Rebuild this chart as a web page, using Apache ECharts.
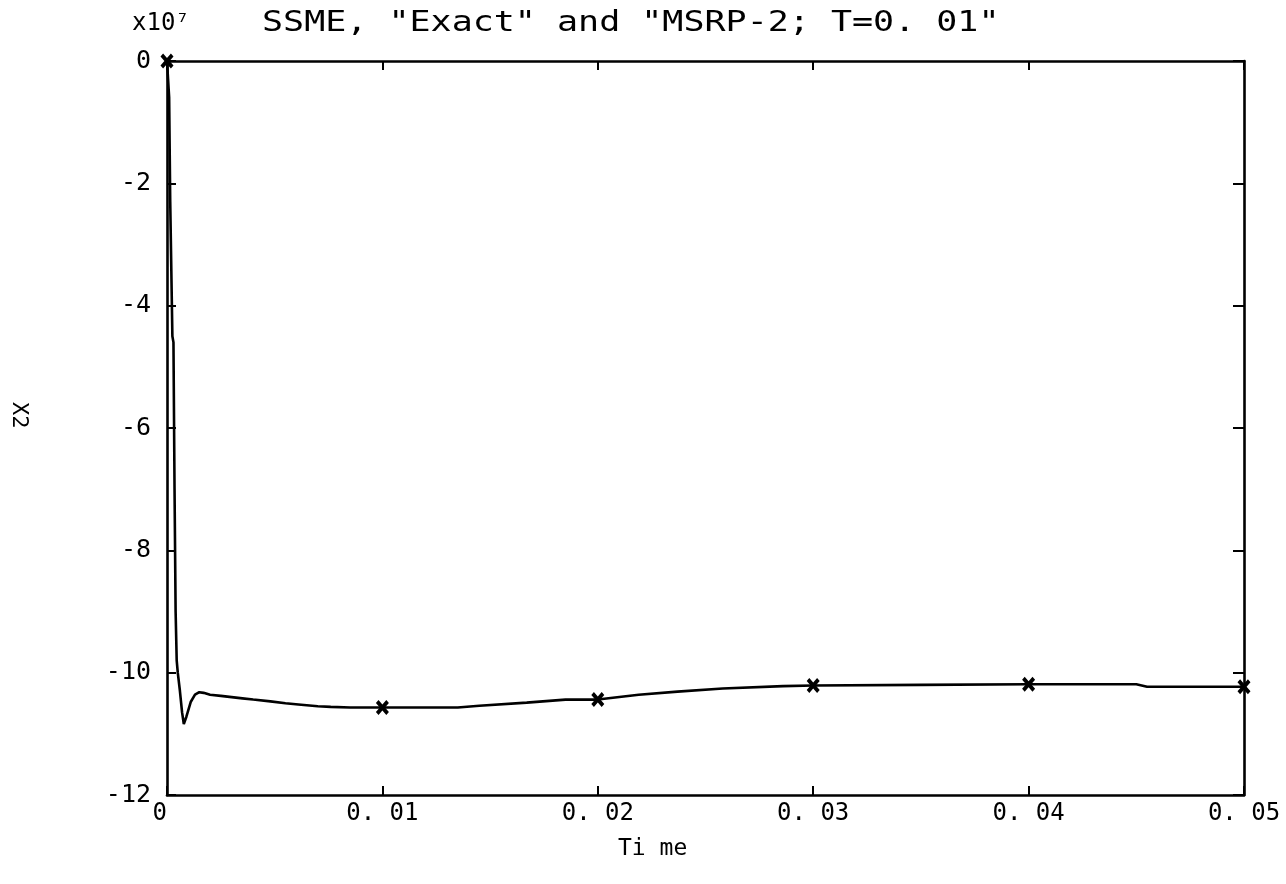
<!DOCTYPE html>
<html>
<head>
<meta charset="utf-8">
<script src="https://cdn.jsdelivr.net/npm/echarts@6/dist/echarts.min.js"></script>
<style>
html,body{margin:0;padding:0;background:#fff;}
#chart{width:1286px;height:884px;}
</style>
</head>
<body>
<div id="chart"></div>
<script>
// "Exact" response (values in units of 1e7)
const exactTime = [0, 0.00005, 0.0001, 0.00015, 0.0002, 0.00025, 0.0003, 0.00035, 0.0004, 0.00045, 0.0005, 0.0006, 0.0007, 0.00078, 0.0009, 0.0011, 0.0013, 0.0015, 0.0017, 0.002, 0.0025, 0.003, 0.0035, 0.004, 0.0048, 0.0055, 0.0061, 0.007, 0.0076, 0.0085, 0.01, 0.0135, 0.0145, 0.0167, 0.0185, 0.02, 0.0219, 0.0237, 0.0258, 0.0286, 0.03, 0.035, 0.04, 0.045, 0.0455, 0.05];
const exactX2 = [0, -0.3, -0.6, -2.3, -2.3, -4.5, -4.6, -7.0, -9.0, -9.8, -10.0, -10.3, -10.65, -10.84, -10.72, -10.48, -10.36, -10.32, -10.33, -10.36, -10.38, -10.40, -10.42, -10.44, -10.47, -10.50, -10.52, -10.55, -10.56, -10.57, -10.57, -10.57, -10.54, -10.49, -10.44, -10.44, -10.36, -10.31, -10.26, -10.22, -10.21, -10.20, -10.19, -10.19, -10.23, -10.23];
// "MSRP-2; T=0.01" sample points
const msrpTime = [0, 0.01, 0.02, 0.03, 0.04, 0.05];
const msrpX2 = [0, -10.57, -10.44, -10.21, -10.19, -10.23];
// tick labels
const xTickLabels = ['0', '0. 01', '0. 02', '0. 03', '0. 04', '0. 05'];
const yTickLabels = ['-12', '-10', '-8', '-6', '-4', '-2', '0'];

const FONT = 'DejaVu Sans Mono';
const chart = echarts.init(document.getElementById('chart'));
const axisLine = {show: true, onZero: false, lineStyle: {color: '#000', width: 2.6}};
const tick = (len) => ({show: true, inside: true, length: len, lineStyle: {color: '#000', width: 2}});
const xSymbol = 'path://M0,2L2,0L5,3L8,0L10,2L7,5L10,8L8,10L5,7L2,10L0,8L3,5Z';

chart.setOption({
  animation: false,
  backgroundColor: '#fff',
  grid: {left: 167, right: 42, top: 61, bottom: 89, containLabel: false},
  xAxis: [{
    type: 'value', min: 0, max: 0.05, interval: 0.01, position: 'bottom',
    axisLine: axisLine, axisTick: tick(9), splitLine: {show: false},
    axisLabel: {
      formatter: (v, i) => xTickLabels[i], fontFamily: FONT, fontSize: 24, color: '#000',
      margin: 7, alignMinLabel: 'right'
    }
  }, {
    type: 'value', min: 0, max: 0.05, interval: 0.01, position: 'top',
    axisLine: axisLine, axisTick: tick(9), splitLine: {show: false}, axisLabel: {show: false}
  }],
  yAxis: [{
    type: 'value', min: -12, max: 0, interval: 2, position: 'left',
    axisLine: axisLine, axisTick: tick(9), splitLine: {show: false},
    axisLabel: {formatter: (v, i) => yTickLabels[i], fontFamily: FONT, fontSize: 25, color: '#000', margin: 16}
  }, {
    type: 'value', min: -12, max: 0, interval: 2, position: 'right',
    axisLine: axisLine, axisTick: tick(11), splitLine: {show: false}, axisLabel: {show: false}
  }],
  graphic: [
    {type: 'text', left: 262, top: 10, scaleX: 1.25,
     style: {text: 'SSME, "Exact" and "MSRP-2; T=0. 01"', font: '28px "DejaVu Sans Mono"', fill: '#000'}},
    {type: 'text', left: 132, top: 12,
     style: {text: 'x10⁷', font: '24px "DejaVu Sans Mono"', fill: '#000'}},
    {type: 'text', left: 618, top: 838,
     style: {text: 'Ti me', font: '23px "DejaVu Sans Mono"', fill: '#000'}},
    {type: 'text', x: 30, y: 402, rotation: -Math.PI / 2,
     style: {text: 'X2', font: '22px "DejaVu Sans Mono"', fill: '#000'}}
  ],
  series: [{
    name: 'Exact', type: 'line', xAxisIndex: 0, yAxisIndex: 0,
    data: exactTime.map((t, i) => [t, exactX2[i]]),
    showSymbol: false, lineStyle: {color: '#000', width: 2.6}
  }, {
    name: 'MSRP-2; T=0.01', type: 'scatter', xAxisIndex: 0, yAxisIndex: 0,
    data: msrpTime.map((t, i) => [t, msrpX2[i]]),
    symbol: xSymbol, symbolSize: [13, 15], itemStyle: {color: '#000', opacity: 1}
  }]
});
</script>
</body>
</html>
